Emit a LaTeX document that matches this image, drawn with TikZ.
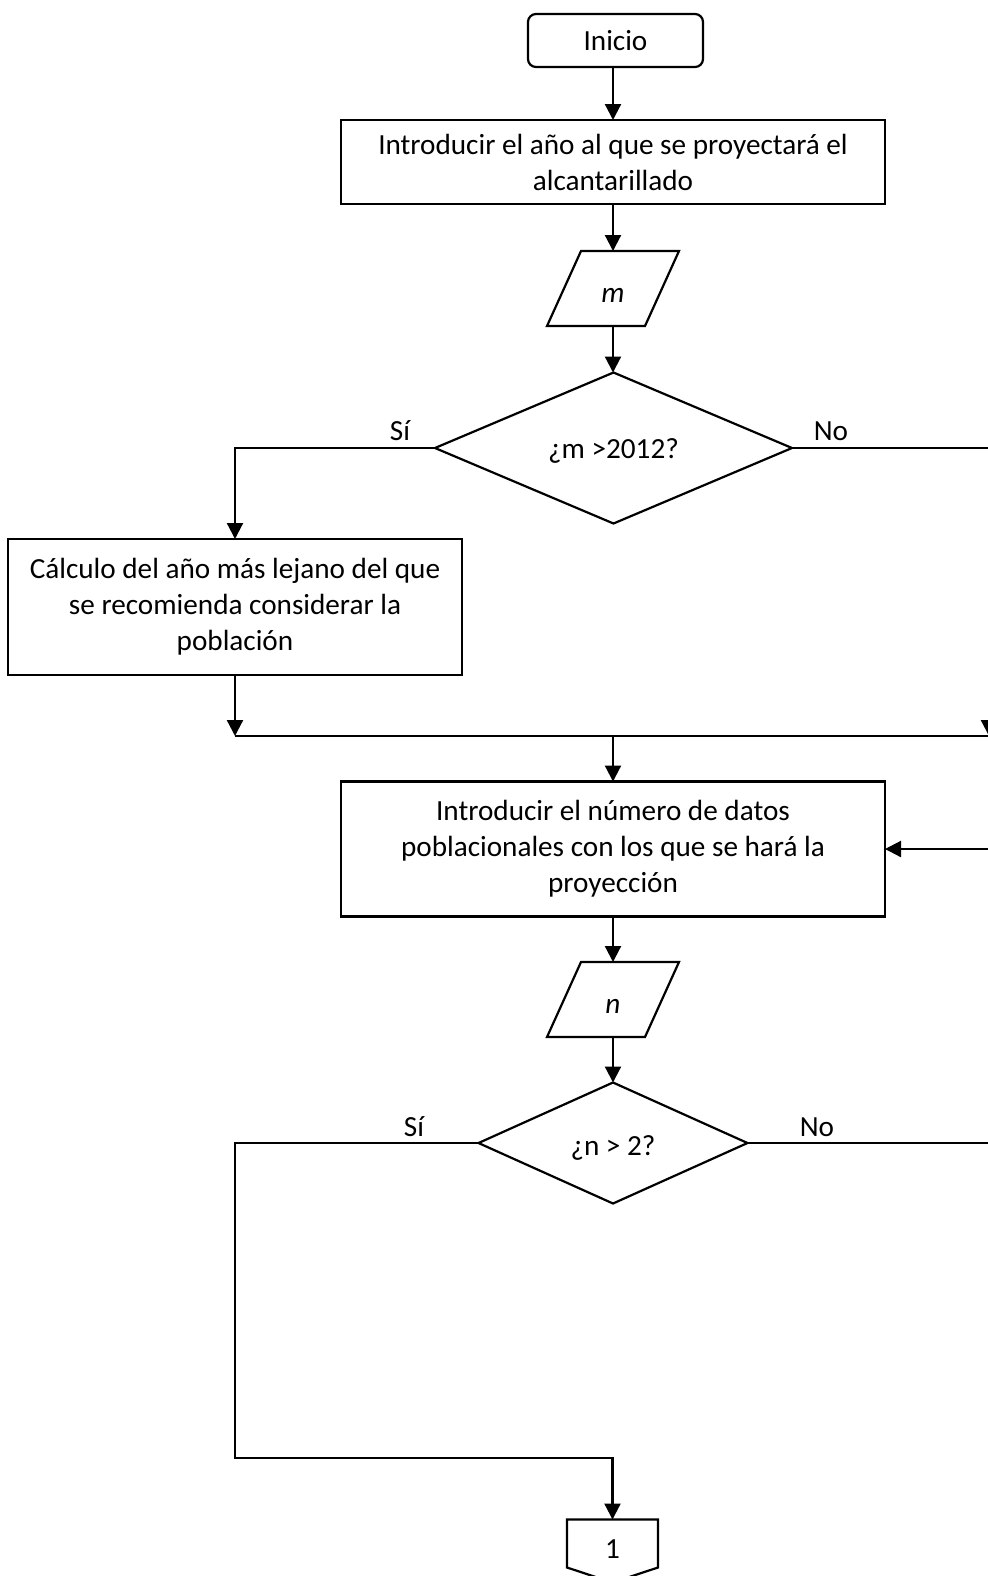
\documentclass[tikz,border=0pt]{standalone}
\usepackage{fontspec}
\setmainfont{Carlito}
\usetikzlibrary{shapes.geometric,arrows.meta,calc}
\begin{document}
\begin{tikzpicture}[x=0.5pt,y=-0.5pt,
  font=\fontsize{14.6}{18}\selectfont,
  line width=1.1pt,
  every node/.style={inner sep=0pt, outer sep=0pt},
  proc/.style={draw, rectangle, align=center},
  start/.style={draw, rectangle, rounded corners=4pt},
  decision/.style={draw, diamond, aspect=2},
  iobox/.style={minimum width=66pt, minimum height=37.5pt},
  arr/.style={-{Triangle[length=8pt,width=8pt]}},
  lbl/.style={anchor=base}]
\useasboundingbox (0,0) rectangle (988,1576);
\clip (0,0) rectangle (988,1576);

% nodes
\node[start, minimum width=87.5pt, minimum height=26.5pt] (ini) at (615.5,40.5) {Inicio};
\node[proc, minimum width=272pt, minimum height=42pt] (anio) at (613,162)
  {Introducir el año al que se proyectará el\\alcantarillado};
\node[iobox] (m) at (613,288.5) {\smash{\raisebox{-6.9pt}{\textit{m}}}};
\draw ($(m.south west)$) -- ($(m.north west)+(34,0)$) -- (m.north east) -- ($(m.south east)-(34,0)$) -- cycle;
\node[decision, minimum width=178.5pt, minimum height=75.5pt] (d1) at (613.5,448) {\smash{\raisebox{-5pt}{¿m >2012?}}};
\node[proc, minimum width=227pt, minimum height=68pt] (calc) at (235,607)
  {Cálculo del año más lejano del que\\se recomienda considerar la\\población};
\node[proc, minimum width=272pt, minimum height=67.5pt] (ndat) at (613,849)
  {Introducir el número de datos\\poblacionales con los que se hará la\\proyección};
\node[iobox] (n) at (613,999.5) {\smash{\raisebox{-7.2pt}{\textit{n}}}};
\draw ($(n.south west)$) -- ($(n.north west)+(34,0)$) -- (n.north east) -- ($(n.south east)-(34,0)$) -- cycle;
\node[decision, minimum width=134.5pt, minimum height=60.5pt] (d2) at (613,1143) {\smash{\raisebox{-6pt}{¿n > 2?}}};
\node[minimum width=45.5pt, minimum height=24pt] (c1) at (612.5,1543.5) {\smash{\raisebox{-7.6pt}{1}}};
\draw (c1.north west) -- (c1.north east) -- (c1.south east) -- ($(c1.south)+(0,15)$) -- (c1.south west) -- cycle;

% junction points
\coordinate (j1L) at (235,448);
\coordinate (j1R) at (989,448);
\coordinate (mL) at (235,736);
\coordinate (mC) at (613,736);
\coordinate (mR) at (989,736);
\coordinate (j2L) at (235,1143);
\coordinate (j2R) at (989,1143);
\coordinate (rB) at (989,849);
\coordinate (bL) at (235,1458);
\coordinate (bC) at (612.5,1458);

% connectors
\draw[arr] (anio.north |- ini.south) -- (anio.north);
\draw[arr] (anio.south) -- (m.north);
\draw[arr] (m.south) -- (d1.north -| m.south);
\draw[arr] (d1.west) -- (j1L) -- (calc.north);
\draw[arr] (d1.east) -- (j1R) -- (mR);
\draw[arr] (calc.south) -- (mL);
\draw (mL) -- (mR);
\draw[arr] (mC) -- (ndat.north);
\draw[arr] (ndat.south) -- (n.north);
\draw[arr] (n.south) -- (d2.north);
\draw[arr] (d2.east) -- (j2R) -- (rB) -- (ndat.east);
\draw[arr] (d2.west) -- (j2L) -- (bL) -- (bC) -- (c1.north);

% branch labels
\node[lbl] (s1) at (400,440) {Sí};
\node[lbl] (no1) at (831,440) {No};
\node[lbl] (s2) at (414,1136) {Sí};
\node[lbl] (no2) at (817,1136) {No};
\end{tikzpicture}
\end{document}
